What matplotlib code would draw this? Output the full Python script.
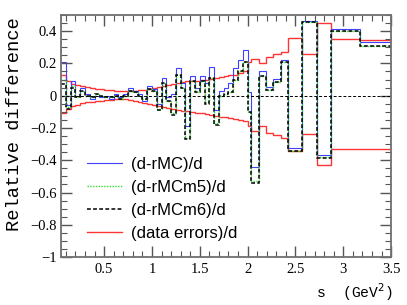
import numpy as np
import matplotlib
matplotlib.use("Agg")
import matplotlib.pyplot as plt
from matplotlib.ticker import MultipleLocator, FuncFormatter
from matplotlib.lines import Line2D

# bin edges in s (GeV^2): fine bins of 0.05 up to 2.0, then wider bins
fine_edges = np.arange(0.05, 2.0001, 0.05)
coarse_edges = [2.04, 2.12, 2.19, 2.27, 2.345, 2.42, 2.57, 2.72, 2.87, 3.17, 3.5]
edges = np.concatenate([fine_edges, coarse_edges])

# (d-rMC)/d
rmc = [0.21, -0.06, 0.09, 0.00, 0.05, 0.01, -0.02, 0.00, -0.01, 0.00,
       -0.02, 0.01, -0.01, 0.01, 0.05, 0.03, 0.01, -0.03, 0.06, 0.04,
       -0.05, 0.11, -0.01, 0.01, 0.17, 0.08, -0.19, 0.12, 0.05, 0.12,
       0.08, 0.18, -0.09, 0.03, 0.05, 0.08, 0.17, 0.22, 0.28,
       0.02, -0.44, 0.15, 0.055, 0.105, 0.22, -0.325, 0.46, -0.37, 0.41, 0.33]

# (d-rMCm5)/d
rmcm5 = [0.10, -0.07, 0.06, -0.01, 0.03, 0.00, -0.01, 0.01, 0.00, -0.01,
         -0.01, 0.00, -0.02, 0.00, 0.03, 0.02, 0.00, -0.02, 0.04, 0.03,
         -0.08, 0.08, -0.03, -0.11, 0.13, 0.05, -0.26, 0.09, 0.02, 0.09,
         -0.04, 0.11, -0.17, 0.00, 0.01, 0.02, 0.10, 0.15, 0.21,
         -0.10, -0.53, 0.12, 0.035, 0.085, 0.21, -0.34, 0.455, -0.38, 0.40, 0.31]

# (d-rMCm6)/d
rmcm6 = [0.07, -0.08, 0.05, -0.01, 0.03, 0.00, -0.01, 0.01, 0.00, -0.01,
         -0.01, 0.00, -0.02, 0.00, 0.03, 0.02, 0.00, -0.02, 0.04, 0.03,
         -0.09, 0.08, -0.03, -0.12, 0.13, 0.05, -0.27, 0.09, 0.02, 0.09,
         -0.05, 0.11, -0.18, 0.00, 0.01, 0.02, 0.10, 0.15, 0.21,
         -0.10, -0.54, 0.12, 0.035, 0.085, 0.21, -0.345, 0.455, -0.385, 0.40, 0.31]

# (data errors)/d, upper and lower
err_up = [0.125, 0.09, 0.075, 0.065, 0.058, 0.052, 0.047, 0.043, 0.040, 0.037,
          0.034, 0.032, 0.030, 0.029, 0.029, 0.031, 0.034, 0.038, 0.042, 0.047,
          0.053, 0.058, 0.064, 0.070, 0.076, 0.082, 0.088, 0.090, 0.092, 0.095,
          0.100, 0.105, 0.110, 0.115, 0.120, 0.125, 0.130, 0.140, 0.150,
          0.21, 0.23, 0.20, 0.24, 0.26, 0.27, 0.36, 0.26, 0.45, 0.35, 0.345]
err_dn = [-0.11, -0.085, -0.065, -0.055, -0.048, -0.042, -0.037, -0.033, -0.030, -0.027,
          -0.025, -0.023, -0.022, -0.023, -0.027, -0.032, -0.038, -0.043, -0.050, -0.057,
          -0.064, -0.070, -0.076, -0.082, -0.088, -0.093, -0.098, -0.100, -0.105, -0.110,
          -0.115, -0.120, -0.125, -0.130, -0.135, -0.140, -0.145, -0.150, -0.160,
          -0.19, -0.22, -0.19, -0.23, -0.245, -0.26, -0.345, -0.235, -0.43, -0.33, -0.33]

fig = plt.figure(figsize=(4.07, 3.05), dpi=100)
ax = fig.add_axes([0.150, 0.157, 0.811, 0.794])

red = '#ff3535'
blue = '#4040ff'
green = '#33dd33'

ax.axhline(0, color='black', lw=0.7, ls=(0, (3, 2)))
ax.stairs(err_up, edges, baseline=None, color=red, lw=1.0)
ax.stairs(err_dn, edges, baseline=None, color=red, lw=1.0)
ax.stairs(rmc, edges, baseline=None, color=blue, lw=0.8)
ax.stairs(rmcm5, edges, baseline=None, color=green, lw=1.0, ls=(0, (1, 1)))
ax.stairs(rmcm6, edges, baseline=None, color='black', lw=1.1, ls=(0, (2.5, 1.5)))

ax.set_xlim(0.05, 3.5)
ax.set_ylim(-1, 0.5)


def fmt(v, pos):
    v = round(v, 6)
    if v == 0:
        return '0'
    return ('%g' % v).replace('-', '\u2212')


ax.xaxis.set_major_locator(MultipleLocator(0.5))
ax.xaxis.set_minor_locator(MultipleLocator(0.1))
ax.yaxis.set_major_locator(MultipleLocator(0.2))
ax.yaxis.set_minor_locator(MultipleLocator(0.05))
ax.xaxis.set_major_formatter(FuncFormatter(fmt))
ax.yaxis.set_major_formatter(FuncFormatter(fmt))

ax.tick_params(which='both', direction='in', top=True, right=True,
               color='#555555', labelsize=10.5)
ax.tick_params(which='major', length=8, width=1)
ax.tick_params(which='minor', length=4, width=0.8)
for lab in ax.get_xticklabels() + ax.get_yticklabels():
    lab.set_family('Liberation Serif')
ax.tick_params(axis='x', pad=4)
ax.tick_params(axis='y', pad=3)
for sp in ax.spines.values():
    sp.set_color('#707070')
    sp.set_linewidth(1.3)

fig.text(15 / 407, 1 - 17 / 305, 'Relative difference', rotation=90,
         ha='center', va='top', family='Liberation Mono', fontsize=13.5)
fig.text(393 / 407, 1 - 292 / 305, r's  (GeV$^{2}$)', ha='right', va='center',
         family='Liberation Mono', fontsize=10.5)

handles = [Line2D([], [], color=blue, lw=0.8),
           Line2D([], [], color=green, lw=1.0, ls=(0, (1, 1))),
           Line2D([], [], color='black', lw=1.1, ls=(0, (2.5, 1.5))),
           Line2D([], [], color=red, lw=1.0)]
labels = ['(d-rMC)/d', '(d-rMCm5)/d', '(d-rMCm6)/d', '(data errors)/d']
ax.legend(handles, labels, loc='upper left', bbox_to_anchor=(0.08, 0.413),
          frameon=False, prop={'family': 'Liberation Sans', 'size': 12},
          handlelength=2.1, handletextpad=0.5, labelspacing=0.48,
          borderaxespad=0, borderpad=0)

fig.savefig('out.png', dpi=100)
